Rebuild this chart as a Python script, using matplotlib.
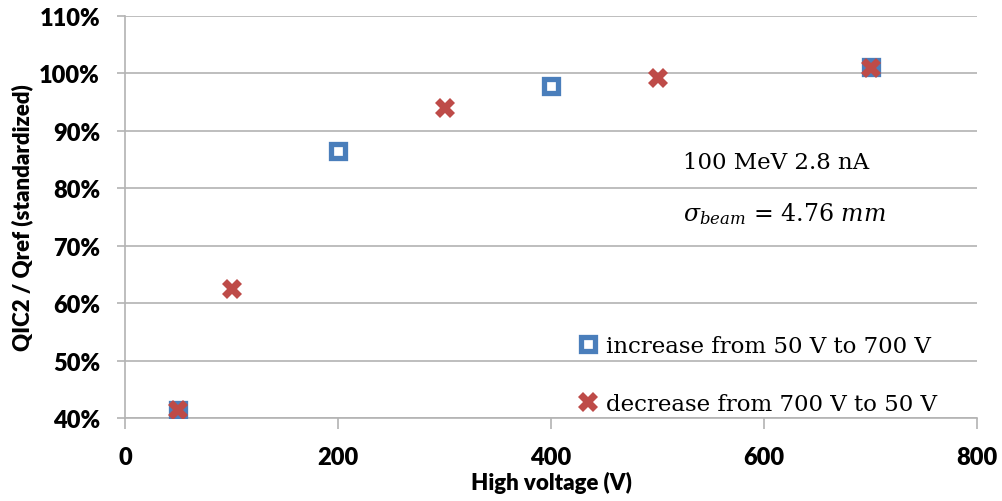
import matplotlib
matplotlib.use('Agg')
import matplotlib.pyplot as plt
from matplotlib.ticker import FuncFormatter

# measured ratios QIC2 / Qref
hv_increase = [50, 200, 400, 700]
ratio_increase = [0.414, 0.865, 0.978, 1.011]
hv_decrease = [50, 100, 300, 500, 700]
ratio_decrease = [0.414, 0.625, 0.940, 0.992, 1.009]

label_increase = 'increase from 50 V to 700 V'
label_decrease = 'decrease from 700 V to 50 V'

blue = '#4a7ebb'
red = '#be4b48'
gray = '#b3b3b3'

fig = plt.figure(figsize=(10.03, 5.02), dpi=100)
ax = fig.add_axes([125 / 1003, 1 - 419 / 502, 852 / 1003, 402 / 502])

ax.plot(hv_increase, ratio_increase, linestyle='none', marker='s', markersize=10.5,
        markerfacecolor='white', markeredgecolor=blue, markeredgewidth=3.8,
        label=label_increase, zorder=3)
ax.plot(hv_decrease, ratio_decrease, linestyle='none', marker='X', markersize=14,
        markerfacecolor=red, markeredgecolor=red, markeredgewidth=0,
        label=label_decrease, zorder=4)

ax.set_xlim(0, 800)
ax.set_ylim(0.4, 1.1)
ax.set_xticks([0, 200, 400, 600, 800])
ax.set_yticks([0.4, 0.5, 0.6, 0.7, 0.8, 0.9, 1.0, 1.1])
ax.yaxis.set_major_formatter(FuncFormatter(lambda v, p: f'{v * 100:.0f}%'))

ax.grid(True, axis='y', color=gray, linewidth=1.2)
ax.set_axisbelow(True)
for s in ['top', 'right']:
    ax.spines[s].set_visible(False)
for s in ['left', 'bottom']:
    ax.spines[s].set_color(gray)
    ax.spines[s].set_linewidth(1.2)
ax.tick_params(axis='x', direction='out', length=8, width=1.2, color=gray, pad=12)
ax.tick_params(axis='y', direction='out', length=6, width=1.2, color=gray, pad=12)

for lab in ax.get_xticklabels() + ax.get_yticklabels():
    lab.set_fontfamily('Lato')
    lab.set_fontweight('heavy')
    lab.set_fontsize(17)

ax.set_xlabel('High voltage (V)', fontfamily='Lato', fontweight='heavy', fontsize=16, labelpad=2)
ax.set_ylabel('QIC2 / Qref (standardized)', fontfamily='Lato', fontweight='heavy', fontsize=16, labelpad=4)

ax.text(524, 0.846, '100 MeV 2.8 nA', fontfamily='DejaVu Serif', fontsize=16.5,
        va='center', ha='left')
ax.text(524, 0.757, r'$\sigma_{beam}$ = 4.76 $mm$', fontfamily='DejaVu Serif', fontsize=17,
        va='center', ha='left', math_fontfamily='dejavuserif')

leg = ax.legend(loc='lower left', bbox_to_anchor=(0.5085, -0.045), frameon=False,
                handlelength=0.8, handletextpad=0.4, labelspacing=1.6,
                prop={'family': 'DejaVu Serif', 'size': 16.5})

fig.savefig('out.png', dpi=100)
